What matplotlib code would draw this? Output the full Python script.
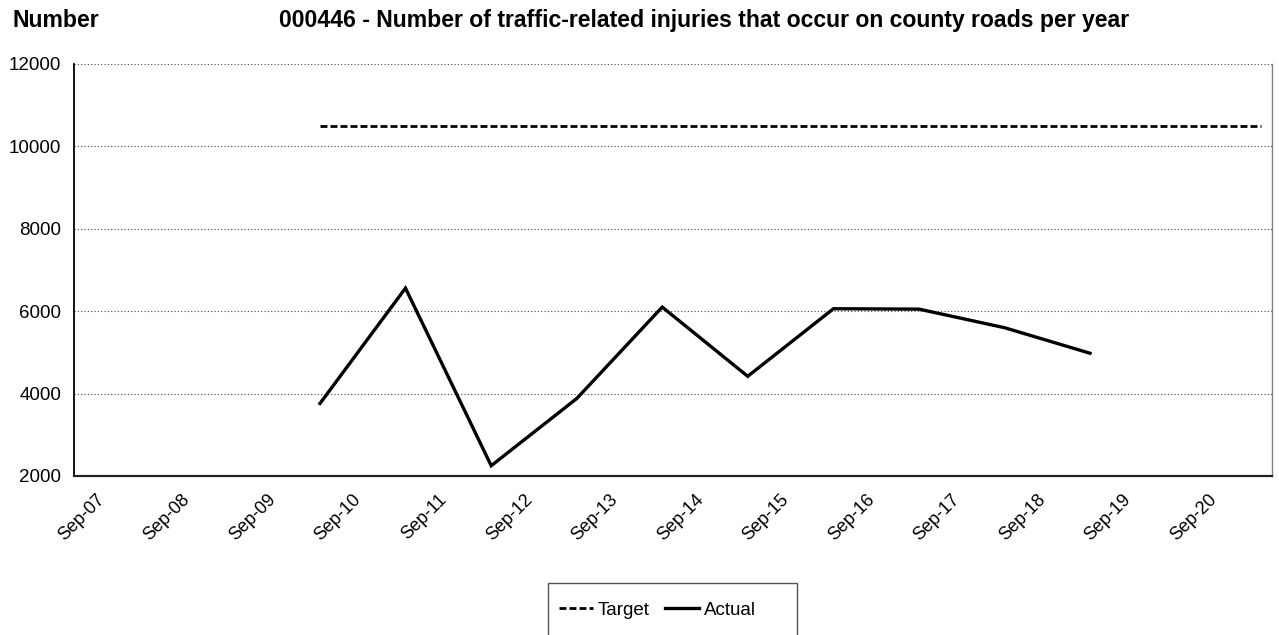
import matplotlib
matplotlib.use("Agg")
import matplotlib.pyplot as plt
import matplotlib.transforms as mtransforms
from matplotlib.patches import Rectangle
import pandas as pd

plt.rcParams['font.family'] = ['Liberation Sans', 'DejaVu Sans']

# data
actual_dates = ["2010-07-01", "2011-07-01", "2012-07-01", "2013-07-01", "2014-07-01",
                "2015-07-01", "2016-07-01", "2017-07-01", "2018-07-01", "2019-07-01"]
actual_values = [3760, 6560, 2250, 3880, 6100, 4420, 6060, 6050, 5600, 4980]

target_dates = ["2010-07-01", "2011-07-01", "2012-07-01", "2013-07-01", "2014-07-01",
                "2015-07-01", "2016-07-01", "2017-07-01", "2018-07-01", "2019-07-01",
                "2020-07-01", "2021-07-01"]
target_values = [10500, 10500, 10500, 10500, 10500, 10500,
                 10500, 10500, 10500, 10500, 10500, 10500]

tick_dates = ["2007-09-01", "2008-09-01", "2009-09-01", "2010-09-01", "2011-09-01",
              "2012-09-01", "2013-09-01", "2014-09-01", "2015-09-01", "2016-09-01",
              "2017-09-01", "2018-09-01", "2019-09-01", "2020-09-01"]
tick_labels = ["Sep-07", "Sep-08", "Sep-09", "Sep-10", "Sep-11", "Sep-12", "Sep-13",
               "Sep-14", "Sep-15", "Sep-16", "Sep-17", "Sep-18", "Sep-19", "Sep-20"]

y_ticks = [2000, 4000, 6000, 8000, 10000, 12000]

W, H = 1279, 635
fig = plt.figure(figsize=(W / 100, H / 100), dpi=100)
ax = fig.add_axes([74 / W, 1 - 476 / H, (1272 - 74) / W, (476 - 64) / H])

ax.plot(pd.to_datetime(target_dates), target_values, color='black', lw=2.0,
        linestyle=(0, (2.5, 1.1)), label='Target', zorder=3)
ax.plot(pd.to_datetime(actual_dates), actual_values, color='black', lw=2.4,
        solid_joinstyle='miter', label='Actual', zorder=4)

ax.set_xlim(pd.Timestamp("2007-08-16"), pd.Timestamp("2021-08-16"))
ax.set_ylim(2000, 12000)
ax.set_yticks(y_ticks)
ax.set_xticks(pd.to_datetime(tick_dates))
ax.set_xticklabels(tick_labels, rotation=45, ha='right', va='top',
                   rotation_mode='anchor')
ax.tick_params(axis='x', length=0, pad=11, labelsize=13)
ax.tick_params(axis='y', length=0, pad=9, labelsize=13.5)

# excel puts the rotated labels a bit to the right of the tick
offset = mtransforms.ScaledTranslation(0.18, 0, fig.dpi_scale_trans)
for lab in ax.get_xticklabels():
    lab.set_transform(lab.get_transform() + offset)

ax.grid(axis='y', linestyle=(0, (1, 2)), color='#444444', lw=0.8)
ax.spines['top'].set_visible(False)
ax.spines['left'].set_linewidth(1.3)
ax.spines['bottom'].set_linewidth(1.6)
ax.spines['bottom'].set_color('#222222')
ax.spines['right'].set_color('#808080')
ax.spines['right'].set_linewidth(1.0)

fig.text(13 / W, 1 - 27 / H, "Number", fontsize=16.6, fontweight='bold', va='baseline')
fig.text(279 / W, 1 - 27 / H,
         "000446 - Number of traffic-related injuries that occur on county roads per year",
         fontsize=16.6, fontweight='bold', va='baseline')

# legend box (runs off the bottom edge like the original)
fig.patches.append(Rectangle((548 / W, -0.02), 249 / W, 0.02 + (1 - 583 / H),
                             transform=fig.transFigure, fill=False,
                             edgecolor='#555555', lw=1.0))
leg = fig.legend(loc='center left', bbox_to_anchor=(559 / W, 1 - 610 / H), ncol=2,
                 fontsize=13.5, frameon=False, handlelength=1.8, handletextpad=0.25,
                 columnspacing=0.85, borderpad=0, borderaxespad=0)

fig.savefig("out.png", dpi=100)
